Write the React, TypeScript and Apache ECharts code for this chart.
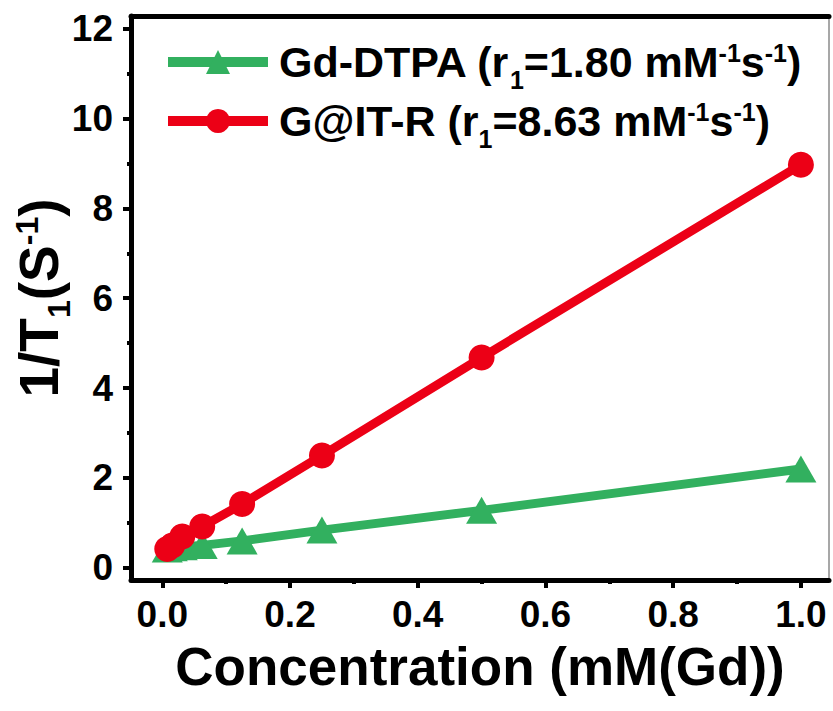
import React, { useEffect, useRef } from "react";
import * as echarts from "echarts";

const concentrations = [0.0078, 0.0156, 0.03125, 0.0625, 0.125, 0.25, 0.5, 1.0];
const gdDtpa = [0.42, 0.45, 0.47, 0.5, 0.6, 0.84, 1.28, 2.2];
const gitR = [0.42, 0.5, 0.7, 0.92, 1.42, 2.5, 4.68, 8.97];
const seriesNames = ["Gd-DTPA (r1=1.80 mM-1s-1)", "G@IT-R (r1=8.63 mM-1s-1)"];
const legendRich = [
  "{b|Gd-DTPA (r}{sub|1}{b|=1.80 mM}{sup|-1}{b|s}{sup|-1}{b|)}",
  "{b|G@IT-R (r}{sub|1}{b|=8.63 mM}{sup|-1}{b|s}{sup|-1}{b|)}",
];
const xMajorTicks = [0, 0.2, 0.4, 0.6, 0.8, 1.0];
const xMinorTicks = [0.1, 0.3, 0.5, 0.7, 0.9];
const yMajorTicks = [0, 2, 4, 6, 8, 10, 12];
const yMinorTicks = [1, 3, 5, 7, 9, 11];

const FONT = "'Liberation Sans', Arial, sans-serif";
const GREEN = "#32B05F";
const RED = "#EC0016";

export default function App() {
  const ref = useRef<HTMLDivElement>(null);
  useEffect(() => {
    const chart = echarts.init(ref.current!, undefined, { renderer: "svg" });
    const xMin = -0.049;
    const xMax = 1.044;
    const yMin = -0.27;
    const yMax = 12.28;
    const axisLineBlack = { show: true, onZero: false, lineStyle: { color: "#000", width: 5 } };
    chart.setOption({
      animation: false,
      backgroundColor: "#fff",
      grid: {
        left: 131,
        right: 4,
        top: 16,
        bottom: 131,
        outerBoundsMode: "none",
        containLabel: false,
        show: true,
        borderColor: "#8a8a8a",
        borderWidth: 1.5,
        backgroundColor: "transparent",
      },
      legend: {
        orient: "vertical",
        left: 158,
        top: 35,
        itemWidth: 100,
        itemHeight: 30,
        itemGap: 7,
        data: seriesNames,
        lineStyle: { width: 10 },
        formatter: (name: string) => legendRich[seriesNames.indexOf(name)],
        textStyle: {
          fontFamily: FONT,
          fontWeight: "bold",
          fontSize: 43,
          color: "#000",
          padding: [0, 0, 0, 6],
          rich: {
            b: { fontFamily: FONT, fontWeight: "bold", fontSize: 43, lineHeight: 44, color: "#000" },
            sub: {
              fontFamily: FONT,
              fontWeight: "bold",
              fontSize: 25,
              lineHeight: 25,
              verticalAlign: "bottom",
              padding: [0, 0, -8, 0],
              color: "#000",
            },
            sup: {
              fontFamily: FONT,
              fontWeight: "bold",
              fontSize: 25,
              lineHeight: 25,
              verticalAlign: "top",
              color: "#000",
            },
          },
        },
      },
      xAxis: [
        {
          type: "value",
          min: xMin,
          max: xMax,
          position: "bottom",
          axisLine: axisLineBlack,
          splitLine: { show: false },
          axisTick: {
            show: true,
            customValues: xMajorTicks,
            length: 8,
            lineStyle: { color: "#000", width: 4 },
          },
          axisLabel: {
            customValues: xMajorTicks,
            formatter: (v: number) => v.toFixed(1),
            fontFamily: FONT,
            fontWeight: "bold",
            fontSize: 37,
            color: "#000",
            margin: 16,
          },
          name: "Concentration (mM(Gd))",
          nameLocation: "middle",
          nameGap: 60,
          nameMoveOverlap: false,
          nameTextStyle: {
            fontFamily: FONT,
            fontWeight: "bold",
            fontSize: 53,
            color: "#000",
          },
        },
        {
          type: "value",
          min: xMin,
          max: xMax,
          position: "bottom",
          axisLine: { show: false, onZero: false },
          splitLine: { show: false },
          axisTick: {
            show: true,
            customValues: xMinorTicks,
            length: 4,
            lineStyle: { color: "#000", width: 4 },
          },
          axisLabel: { show: false },
        },
        {
          type: "value",
          min: xMin,
          max: xMax,
          position: "top",
          axisLine: axisLineBlack,
          splitLine: { show: false },
          axisTick: { show: false },
          axisLabel: { show: false },
        },
      ],
      yAxis: [
        {
          type: "value",
          min: yMin,
          max: yMax,
          position: "left",
          axisLine: axisLineBlack,
          splitLine: { show: false },
          axisTick: {
            show: true,
            customValues: yMajorTicks,
            length: 8,
            lineStyle: { color: "#000", width: 4 },
          },
          axisLabel: {
            customValues: yMajorTicks,
            fontFamily: FONT,
            fontWeight: "bold",
            fontSize: 37,
            color: "#000",
            margin: 18,
          },
          name: "{b|1/T}{sub|1}{b|(S}{sup|-1}{b|)}",
          nameLocation: "middle",
          nameRotate: 90,
          nameGap: 64,
          nameMoveOverlap: false,
          nameTextStyle: {
            rich: {
              b: { fontFamily: FONT, fontWeight: "bold", fontSize: 55, lineHeight: 56, color: "#000" },
              sub: {
                fontFamily: FONT,
                fontWeight: "bold",
                fontSize: 32,
                lineHeight: 32,
                verticalAlign: "bottom",
                padding: [0, 0, -8, 0],
                color: "#000",
              },
              sup: {
                fontFamily: FONT,
                fontWeight: "bold",
                fontSize: 32,
                lineHeight: 32,
                verticalAlign: "top",
                color: "#000",
              },
            },
          },
        },
        {
          type: "value",
          min: yMin,
          max: yMax,
          position: "left",
          offset: 0,
          axisLine: { show: false, onZero: false },
          splitLine: { show: false },
          axisTick: {
            show: true,
            customValues: yMinorTicks,
            length: 4,
            lineStyle: { color: "#000", width: 4 },
          },
          axisLabel: { show: false },
        },
      ],
      series: [
        {
          name: seriesNames[0],
          type: "line",
          xAxisIndex: 0,
          yAxisIndex: 0,
          data: concentrations.map((c, i) => [c, gdDtpa[i]]),
          symbol: "triangle",
          symbolSize: [31, 27],
          lineStyle: { color: GREEN, width: 9 },
          itemStyle: { color: GREEN },
          z: 2,
        },
        {
          name: seriesNames[1],
          type: "line",
          xAxisIndex: 0,
          yAxisIndex: 0,
          data: concentrations.map((c, i) => [c, gitR[i]]),
          symbol: "circle",
          symbolSize: 26,
          lineStyle: { color: RED, width: 9 },
          itemStyle: { color: RED },
          z: 3,
        },
      ],
    });
    return () => chart.dispose();
  }, []);
  return <div ref={ref} style={{ width: 833, height: 711, position: "absolute", left: 0, top: 0 }} />;
}
